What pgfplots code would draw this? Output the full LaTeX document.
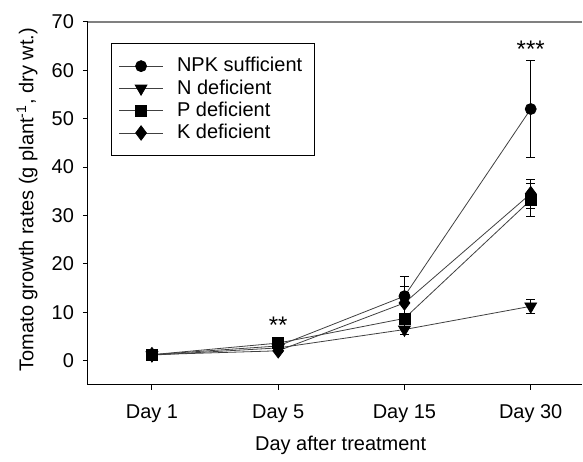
\documentclass[border=0pt]{standalone}
\usepackage{fontspec}
\setmainfont{Liberation Sans}
\usepackage{pgfplots}
\pgfplotsset{compat=1.18}
\usepackage{pgfplotstable}
\pgfplotstableread{
x  npk  enpk  n    en   p    ep   k    ek
1  1.2  0.2   1.1  0.2  1.2  0.2  1.2  0.2
2  3.0  0.3   2.6  0.3  3.6  0.3  2.0  0.3
3  13.3 4.0   6.4  1.1  8.7  0.8  11.9 3.4
4  52.0 10.0  11.2 1.4  33.2 3.4  34.5 3.0
}\datatable
\begin{document}
\begin{tikzpicture}
\begin{axis}[
  scale only axis,
  width=247.5pt, height=181.5pt,
  xmin=0.493, xmax=4.41,
  ymin=-5, ymax=70,
  axis x line*=bottom, axis y line*=left,
  axis line style={-, black, line width=0.5pt},
  xtick={1,2,3,4},
  xticklabels={Day 1,Day 5,Day 15,Day 30},
  ytick={0,10,20,30,40,50,60,70},
  tick align=outside,
  major tick length=2.5pt,
  tick style={black, line width=0.5pt},
  /pgf/number format/assume math mode=true,
  xticklabel style={yshift=-4pt},
  yticklabel style={xshift=-1pt},
  xlabel={Day after treatment},
  ylabel={Tomato growth rates (g plant\textsuperscript{-1}, dry wt.)},
  xlabel style={at={(axis description cs:0.511,-0.168)}, anchor=center},
  ylabel style={at={(axis description cs:-0.123,0.51)}, anchor=center, rotate=0},
  legend style={at={(axis description cs:0.046,0.942)}, anchor=north west,
    draw=black, line width=0.4pt, inner xsep=4pt, inner ysep=5pt,
    row sep=-1.6pt, column sep=5pt, font=\normalsize, cells={anchor=west}},
  legend image code/.code={\draw[mark repeat=2,mark phase=2,#1] plot coordinates {(0cm,0cm) (0.38cm,0cm) (0.76cm,0cm)};},
  every axis plot/.append style={line width=0.4pt},
  error bars/error bar style={black, line width=0.4pt},
  error bars/error mark options={rotate=90, mark size=2.25pt, black, line width=0.4pt},
]
\addplot[black!75, mark=*, mark size=2.75pt, mark options={black, fill=black},
  error bars/.cd, y dir=both, y explicit]
  table[x=x, y=npk, y error=enpk] {\datatable};
\addlegendentry{NPK sufficient}
\addplot[black!75, mark=triangle*, mark size=3.4pt, mark options={black, fill=black, rotate=180},
  error bars/.cd, y dir=both, y explicit]
  table[x=x, y=n, y error=en] {\datatable};
\addlegendentry{N deficient}
\addplot[black!75, mark=square*, mark size=2.75pt, mark options={black, fill=black},
  error bars/.cd, y dir=both, y explicit]
  table[x=x, y=p, y error=ep] {\datatable};
\addlegendentry{P deficient}
\addplot[black!75, mark=diamond*, mark size=3.6pt, mark options={black, fill=black},
  error bars/.cd, y dir=both, y explicit]
  table[x=x, y=k, y error=ek] {\datatable};
\addlegendentry{K deficient}
\node[font=\large] at (axis cs:2,7.2) {**};
\node[font=\large] at (axis cs:4,64.3) {***};
\draw[gray, line width=0.6pt] (rel axis cs:0,1) -- (rel axis cs:1,1);
\end{axis}
\path (current axis.south west) ++(-44pt,-36pt);
\path (current axis.north east) ++(0pt,11pt);
\end{tikzpicture}
\end{document}
